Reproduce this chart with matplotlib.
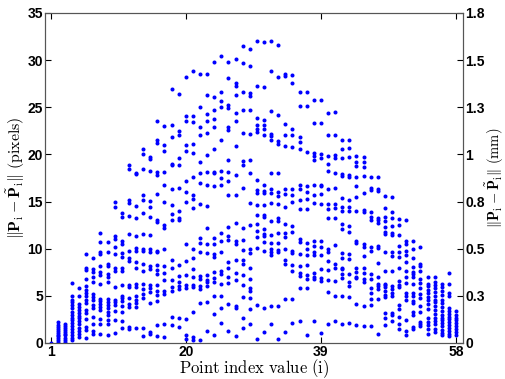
import numpy as np
import matplotlib
matplotlib.use("Agg")
import matplotlib.pyplot as plt

plt.rcParams['mathtext.fontset'] = 'cm'

# error per point index (pixels)
err = {
    1: [0.0],
    2: [0.1, 0.3, 0.5, 0.7, 0.9, 1.1, 1.3, 1.5, 1.7, 1.9, 2.2],
    3: [0.1, 0.3, 0.5, 0.8, 1.0, 1.2, 1.4, 1.6, 1.8, 2.0],
    4: [6.4, 5.0, 4.6, 4.3, 4.0, 3.7, 3.3, 3.0, 2.7, 2.4, 2.1, 1.8, 1.5, 1.2, 0.9, 0.5, 0.3],
    5: [5.8, 5.0, 4.1, 3.8, 3.5, 3.2, 2.9, 2.6, 2.3, 2.0, 1.6, 1.3, 1.0, 0.6],
    6: [9.4, 8.0, 7.7, 6.8, 6.0, 5.6, 5.3, 5.0, 4.6, 4.2, 3.5, 3.2, 2.5, 1.7, 1.4, 0.5],
    7: [9.0, 7.8, 7.5, 7.0, 6.5, 5.2, 4.9, 4.6, 4.0, 3.7, 2.8, 2.0, 1.3, 1.0],
    8: [11.7, 10.7, 9.6, 9.4, 8.2, 7.5, 7.2, 6.3, 4.7, 4.4, 4.1, 3.8, 3.5, 2.5, 2.0, 1.0],
    9: [10.7, 9.6, 8.4, 8.2, 7.3, 7.0, 6.5, 4.7, 4.3, 4.0, 3.7, 3.3, 3.0, 2.4, 2.0, 0.9],
    10: [15.0, 14.4, 11.3, 11.0, 10.2, 9.4, 8.0, 7.6, 5.9, 4.6, 4.3, 4.0, 3.4, 2.4, 1.1],
    11: [13.8, 13.4, 10.8, 10.5, 9.5, 9.1, 8.0, 7.6, 6.2, 5.0, 4.8, 4.5, 3.9, 3.3, 2.3, 1.6],
    12: [18.9, 18.5, 15.2, 14.8, 13.5, 11.6, 9.8, 9.0, 8.7, 6.2, 5.9, 4.8, 4.1, 3.8, 1.7, 1.5],
    13: [18.0, 17.9, 14.5, 13.2, 11.3, 10.1, 9.8, 8.6, 8.0, 6.3, 5.9, 5.0, 4.6, 4.2, 3.8, 1.6],
    14: [20.6, 20.0, 18.5, 15.7, 15.2, 13.8, 11.6, 10.0, 9.8, 8.4, 7.6, 6.3, 5.7, 5.2, 4.8, 1.6, 0.7],
    15: [19.7, 19.5, 18.2, 15.1, 14.4, 13.4, 11.4, 10.0, 9.7, 8.2, 7.8, 6.2, 5.8, 5.4, 4.2, 1.2, 1.0],
    16: [23.5, 21.5, 21.2, 18.1, 17.8, 15.8, 13.0, 12.8, 9.8, 9.6, 8.3, 7.7, 7.3, 6.1, 5.5, 5.1, 4.5, 1.9, 0.7],
    17: [23.0, 21.0, 20.4, 18.1, 16.7, 15.0, 12.5, 12.2, 10.0, 8.2, 7.4, 6.7, 5.5, 5.2, 2.0, 0.6],
    18: [26.9, 23.1, 21.8, 19.0, 18.9, 16.3, 14.6, 13.7, 13.0, 8.8, 8.0, 6.7, 5.9, 5.5, 2.8, 1.9],
    19: [26.4, 22.5, 22.0, 19.6, 18.9, 16.4, 14.0, 13.3, 13.0, 8.3, 7.1, 6.5, 6.0, 5.7, 2.6, 1.7],
    20: [28.2, 24.1, 23.5, 21.0, 20.4, 17.2, 16.0, 15.0, 10.5, 8.7, 7.2, 6.2, 5.8, 2.5, 0.8, 0.4],
    21: [28.8, 24.1, 23.4, 21.1, 20.1, 17.6, 15.7, 15.3, 14.3, 10.0, 9.0, 7.8, 7.0, 6.2, 5.9, 3.3, 0.6, 0.3],
    22: [28.5, 25.0, 22.9, 22.0, 19.2, 18.0, 17.0, 14.7, 11.1, 10.6, 9.6, 7.1, 6.8, 6.0, 5.7, 4.2, 0.3],
    23: [28.5, 26.3, 24.3, 23.5, 22.3, 19.9, 18.1, 16.8, 14.5, 12.2, 10.5, 9.5, 7.2, 6.7, 6.5, 6.0, 4.3, 1.3],
    24: [29.8, 26.1, 24.7, 23.8, 22.9, 20.6, 18.1, 18.0, 16.6, 11.1, 10.5, 9.4, 9.1, 7.5, 6.9, 6.5, 5.0, 3.1, 0.8],
    25: [30.4, 26.6, 25.7, 25.0, 21.5, 18.2, 17.5, 16.7, 11.7, 10.8, 9.6, 7.6, 7.3, 6.3, 5.0, 3.7, 2.1],
    26: [29.8, 28.1, 25.2, 24.9, 22.9, 22.6, 19.4, 18.1, 17.2, 15.7, 12.3, 11.3, 10.9, 8.6, 8.0, 7.0, 6.4, 4.1, 1.3],
    27: [30.1, 27.6, 27.3, 26.3, 24.4, 23.5, 20.9, 17.8, 15.7, 12.7, 10.8, 10.5, 8.8, 7.4, 6.7, 3.9, 3.7, 0.7],
    28: [31.5, 29.7, 26.6, 24.7, 22.3, 19.3, 18.9, 16.4, 12.2, 10.9, 9.9, 8.8, 8.4, 7.2, 6.1, 4.9, 2.7, 1.6],
    29: [31.2, 29.4, 26.5, 26.2, 24.7, 22.2, 19.4, 18.0, 14.8, 12.5, 10.0, 9.5, 8.0, 6.8, 5.8, 5.5, 4.8, 3.6, 2.0],
    30: [32.0, 27.2, 23.9, 23.1, 22.7, 22.4, 17.3, 16.2, 15.9, 14.6, 13.6, 12.6, 11.9, 11.2, 10.1, 4.0, 0.4],
    31: [31.9, 27.1, 23.6, 23.1, 22.7, 22.1, 16.8, 16.1, 15.9, 14.6, 13.6, 13.4, 12.1, 11.6, 11.3, 10.7, 9.8, 3.7, 1.2],
    32: [32.0, 28.8, 24.6, 22.2, 21.9, 21.5, 18.0, 16.3, 15.9, 14.8, 12.9, 11.5, 10.6, 10.0, 9.7, 9.3, 3.9, 2.0],
    33: [31.6, 28.2, 24.2, 21.4, 21.1, 18.0, 16.0, 15.6, 14.7, 13.2, 12.9, 11.7, 10.6, 9.9, 9.6, 3.9, 0.4],
    34: [28.5, 28.3, 23.2, 22.1, 20.9, 16.3, 15.8, 14.4, 12.6, 11.7, 11.2, 10.0, 8.8, 8.4, 4.7, 1.2],
    35: [28.4, 27.6, 22.7, 22.0, 20.8, 16.3, 15.7, 14.9, 12.4, 11.8, 9.8, 9.5, 8.3, 7.6, 4.7, 2.1],
    36: [26.6, 25.1, 21.8, 21.3, 20.6, 16.7, 16.3, 15.2, 14.2, 11.0, 10.7, 9.4, 8.2, 7.4, 7.1, 5.8, 2.3],
    37: [26.6, 25.1, 20.2, 16.6, 16.0, 15.3, 14.2, 10.6, 10.0, 9.3, 8.3, 7.2, 6.8, 5.8, 0.9],
    38: [25.8, 23.3, 20.1, 19.8, 19.4, 16.7, 15.7, 14.8, 10.8, 10.3, 9.7, 9.3, 7.4, 7.0, 6.8, 2.3],
    39: [25.8, 23.3, 20.0, 19.6, 16.8, 16.6, 15.8, 14.7, 10.8, 10.2, 9.3, 7.8, 6.9, 6.6, 1.1],
    40: [24.4, 22.0, 19.8, 19.0, 18.2, 16.3, 14.7, 14.2, 13.2, 10.0, 9.6, 8.7, 7.7, 6.7, 5.4, 2.0],
    41: [24.5, 22.0, 19.9, 19.6, 18.0, 16.4, 14.7, 14.3, 13.2, 10.4, 8.4, 7.9, 6.6, 5.0, 2.3],
    42: [21.5, 20.6, 19.6, 17.9, 17.7, 15.4, 14.4, 14.0, 12.6, 12.1, 9.5, 9.0, 8.0, 7.8, 7.3, 6.9, 5.0, 2.0],
    43: [21.5, 20.7, 19.7, 17.8, 17.6, 15.2, 14.4, 14.0, 12.4, 11.8, 9.4, 8.9, 7.3, 6.5, 6.0, 4.9, 2.1],
    44: [19.8, 19.2, 18.8, 17.6, 16.6, 15.5, 14.0, 10.8, 10.6, 8.0, 7.5, 7.0, 6.9, 4.1, 1.9],
    45: [19.7, 19.2, 18.7, 17.7, 15.9, 14.1, 13.9, 10.5, 10.2, 9.2, 8.0, 7.4, 6.8, 6.5, 3.9, 1.8],
    46: [17.6, 16.4, 16.2, 13.9, 13.4, 13.0, 10.2, 9.8, 7.3, 6.8, 5.8, 5.3, 4.7, 4.0, 1.8],
    47: [17.6, 16.3, 16.1, 13.2, 13.0, 12.7, 10.3, 10.1, 8.5, 7.0, 6.3, 6.0, 5.7, 4.7, 1.0],
    48: [15.6, 14.3, 13.4, 12.9, 12.3, 11.8, 11.6, 9.7, 7.6, 6.3, 6.1, 5.9, 5.5, 5.1, 4.9, 3.2, 2.7, 1.9],
    49: [15.5, 13.9, 13.2, 12.4, 11.7, 11.4, 9.6, 9.2, 7.6, 6.0, 5.7, 5.3, 5.0, 3.2, 3.0, 2.3],
    50: [13.1, 12.5, 11.5, 10.3, 9.7, 9.1, 8.0, 6.6, 6.2, 5.9, 4.0, 3.6, 2.8, 2.0, 1.5],
    51: [13.0, 10.8, 10.5, 9.8, 9.3, 8.6, 7.6, 7.0, 6.4, 5.3, 5.0, 4.6, 2.4, 1.3, 0.9],
    52: [10.8, 10.0, 9.0, 8.1, 7.5, 7.3, 7.0, 6.3, 5.3, 5.0, 4.5, 4.2, 3.3, 3.0, 1.7, 1.5],
    53: [10.2, 8.4, 8.2, 7.6, 6.8, 6.4, 5.8, 5.2, 4.8, 3.9, 3.3, 2.2, 2.0, 1.8],
    54: [7.0, 6.3, 6.0, 5.6, 5.3, 4.9, 4.6, 4.1, 3.6, 2.7, 2.2, 1.9, 1.5, 1.0],
    55: [7.0, 6.5, 6.1, 5.8, 5.4, 5.0, 4.6, 4.3, 3.9, 3.5, 3.1, 2.6, 2.3, 2.0, 1.5, 1.2],
    56: [6.3, 5.9, 5.5, 5.1, 4.6, 4.2, 3.8, 3.4, 3.0, 2.7, 2.4, 2.1, 1.8, 1.4, 1.1, 0.9],
    57: [7.4, 6.3, 5.3, 5.0, 3.7, 3.4, 3.1, 2.8, 2.5, 2.2, 1.9, 1.6, 1.3, 1.0, 0.7],
    58: [3.4, 3.0, 2.7, 2.4, 2.1, 1.8, 1.5, 1.2, 0.9],
}

x_ticks = [1, 20, 39, 58]
y_ticks = [0, 5, 10, 15, 20, 25, 30, 35]
mm_labels = ['0', '0.3', '0.5', '0.8', '1', '1.3', '1.5', '1.8']

idx = np.concatenate([[k] * len(v) for k, v in err.items()])
vals = np.concatenate([v for v in err.values()])

fig = plt.figure(figsize=(5.05, 3.79), dpi=100)
ax = fig.add_axes([0.089, 0.095, 0.828, 0.871])

ax.plot(idx, vals, 'o', color='#0000ff', markersize=2.9, markeredgewidth=0)

ax.set_xlim(0.2, 59)
ax.set_ylim(0, 35)
ax.set_xticks(x_ticks)
ax.set_yticks(y_ticks)

tick_font = dict(family='Liberation Sans', weight='bold', size=10)
ax.set_xticklabels([str(t) for t in x_ticks], fontdict=tick_font)
ax.set_yticklabels([str(t) for t in y_ticks], fontdict=tick_font)
ax.tick_params(direction='in', length=4, top=True, pad=1.5)

for s in ax.spines.values():
    s.set_color('#555555')
    s.set_linewidth(0.8)

ax.set_xlabel(r'$\mathrm{Point\ index\ value\ (i)}$', fontsize=12, labelpad=-1)
ax.set_ylabel(r'$\Vert\mathbf{P}_\mathrm{i}-\tilde{\mathbf{P}}_\mathrm{i}\Vert\ \mathrm{(pixels)}$',
              fontsize=11.5, labelpad=0)

ax2 = ax.twinx()
ax2.set_ylim(0, 35)
ax2.set_yticks(y_ticks)
ax2.set_yticklabels(mm_labels, fontdict=tick_font)
ax2.tick_params(direction='in', length=4, pad=1.5)
for s in ax2.spines.values():
    s.set_color('#555555')
    s.set_linewidth(0.8)

# right label placed by hand so it stays inside the figure
fig.text(495 / 505, 0.53,
         r'$\Vert\mathbf{P}_\mathrm{i}-\tilde{\mathbf{P}}_\mathrm{i}\Vert\ \mathrm{(mm)}$',
         fontsize=10.5, rotation=90, ha='center', va='center')

fig.savefig('out.png', dpi=100)
